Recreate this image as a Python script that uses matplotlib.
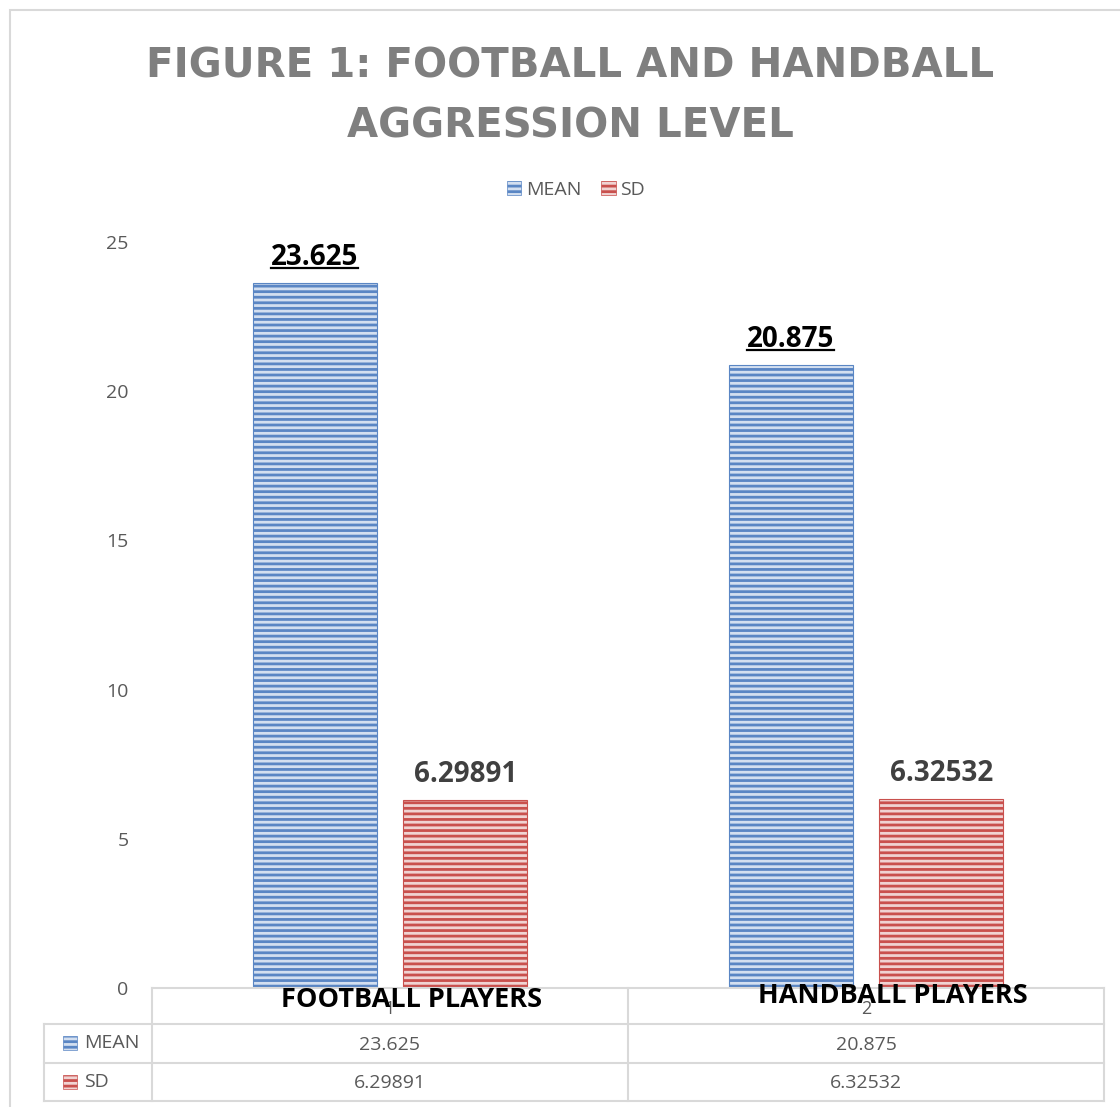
import matplotlib
matplotlib.use('Agg')
import matplotlib.pyplot as plt
from matplotlib.patches import Rectangle, Patch
from matplotlib.lines import Line2D
from matplotlib.transforms import IdentityTransform

categories = ['FOOTBALL PLAYERS', 'HANDBALL PLAYERS']
cat_numbers = ['1', '2']
series = ['MEAN', 'SD']
mean_vals = [23.625, 20.875]
sd_vals = [6.29891, 6.32532]
mean_text = ['23.625', '20.875']
sd_text = ['6.29891', '6.32532']
yticks = [0, 5, 10, 15, 20, 25]

plt.rcParams['font.family'] = ['Open Sans', 'DejaVu Sans']
plt.rcParams['hatch.linewidth'] = 2.0

blue_fill, blue_line = '#d3dff0', '#5a86c4'
red_fill, red_line = '#f0d3d2', '#c9504d'
grid_c = '#d9d9d9'
grey = '#595959'

fig = plt.figure(figsize=(11.2, 11.07), dpi=100)
fig.patch.set_facecolor('white')

# outer chart border
fig.add_artist(Rectangle((10 / 1120, -0.05), 1.2, (1097 / 1107) + 0.05,
                         transform=fig.transFigure, fill=False,
                         edgecolor=grid_c, linewidth=1.5))

ax = fig.add_axes([152 / 1120, 119 / 1107, 952 / 1120, 746 / 1107])
ax.set_xlim(-0.5, 1.5)
ax.set_ylim(0, 25)
for s in ax.spines.values():
    s.set_visible(False)
ax.set_xticks([])
ax.set_yticks(yticks)
ax.set_yticklabels([str(v) for v in yticks], fontsize=14, color=grey)
ax.tick_params(axis='y', length=0, pad=17)

x = list(range(len(categories)))
w = 0.2605
off = 0.1586
ax.bar([i - off for i in x], mean_vals, w, facecolor=blue_fill,
       edgecolor=blue_line, hatch='---', linewidth=0.8)
ax.bar([i + off for i in x], sd_vals, w, facecolor=red_fill,
       edgecolor=red_line, hatch='---', linewidth=0.8)

labels = []
for i in x:
    t = ax.annotate(mean_text[i], (i - off, mean_vals[i]), xytext=(0, 13),
                    textcoords='offset points', ha='center', va='baseline',
                    fontsize=20, fontweight='bold', color='black')
    labels.append((t, i - off, mean_vals[i]))
    ax.annotate(sd_text[i], (i + off, sd_vals[i]), xytext=(0, 13),
                textcoords='offset points', ha='center', va='baseline',
                fontsize=20, fontweight='bold', color='#404040')

# data table under the plot
ta = ax.transAxes
y_head, y_r1, y_r2, y_bot = 0.0, -0.04826, -0.1005, -0.1515
x_left = -0.1134
kw = dict(transform=ta, color=grid_c, linewidth=1.5, clip_on=False)
ax.add_line(Line2D([0, 1], [y_head, y_head], **kw))
for yy in (y_r1, y_r2, y_bot):
    ax.add_line(Line2D([x_left, 1], [yy, yy], **kw))
for xx in (0, 0.5, 1):
    ax.add_line(Line2D([xx, xx], [y_head, y_bot], **kw))
ax.add_line(Line2D([x_left, x_left], [y_r1, y_bot], **kw))

row_y = [(y_r1 + y_r2) / 2, (y_r2 + y_bot) / 2]
row_vals = [mean_text, sd_text]
row_cols = [(blue_fill, blue_line), (red_fill, red_line)]
for r, name in enumerate(series):
    fc, ec = row_cols[r]
    ax.add_patch(Rectangle((-0.0935, row_y[r] - 0.0094), 0.0147, 0.0188,
                           transform=ta, facecolor=fc, edgecolor=ec,
                           hatch='---', linewidth=0.5, clip_on=False))
    ax.text(-0.0714, row_y[r], name, transform=ta, ha='left', va='center',
            fontsize=14, color=grey)
    for i in x:
        ax.text((i + 0.5) / 2, row_y[r] - 0.002, row_vals[r][i], transform=ta,
                ha='center', va='center', fontsize=14, color=grey)

# category header: axis numbers with the bold names drawn over them
head_y = (y_head + y_r1) / 2
shift = [0.046, 0.057]
base = [-0.0255, -0.0201]
for i in x:
    ax.text((i + 0.5) / 2, head_y - 0.004, cat_numbers[i], transform=ta,
            ha='center', va='center', fontsize=13, color=grey)
    ax.text((i + 0.5 + shift[i]) / 2, base[i], categories[i],
            transform=ta, ha='center', va='baseline', fontsize=19.5,
            fontweight='bold', color='black')

# title
title_kw = dict(ha='center', va='baseline', fontsize=29, fontweight='bold',
                color='#7f7f7f', family='DejaVu Sans')
fig.text(570 / 1120, 1 - 78 / 1107, 'FIGURE 1: FOOTBALL AND HANDBALL', **title_kw)
fig.text(570 / 1120, 1 - 137 / 1107, 'AGGRESSION LEVEL', **title_kw)

handles = [Patch(facecolor=blue_fill, edgecolor=blue_line, hatch='---', linewidth=0.5),
           Patch(facecolor=red_fill, edgecolor=red_line, hatch='---', linewidth=0.5)]
fig.legend(handles, series, loc='center', bbox_to_anchor=(576 / 1120, 1 - 190 / 1107),
           ncol=2, frameon=False, fontsize=14, labelcolor=grey,
           handlelength=0.75, handleheight=0.75, handletextpad=0.25, columnspacing=1.0)

# underline the mean labels
fig.canvas.draw()
rend = fig.canvas.get_renderer()
for t, xv, yv in labels:
    bb = t.get_window_extent(rend)
    bl = ax.transData.transform((xv, yv))[1] + 13 * 100 / 72
    fig.add_artist(Line2D([bb.x0, bb.x1], [bl - 3, bl - 3],
                          transform=IdentityTransform(), color='black', linewidth=1.6))

fig.savefig('out.png', dpi=100)
